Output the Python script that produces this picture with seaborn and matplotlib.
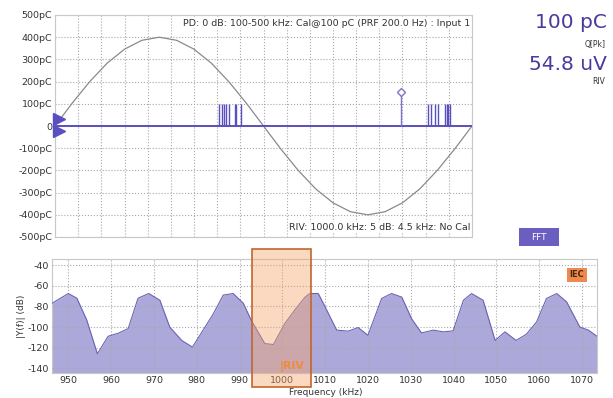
import matplotlib
matplotlib.use("Agg")
import matplotlib.pyplot as plt
import seaborn as sns
import pandas as pd
from matplotlib.patches import Rectangle

# ---------------- data ----------------
# reference AC sine (phase in degrees, charge in pC), read off at 15 deg steps
sine_phase = [0, 15, 30, 45, 60, 75, 90, 105, 120, 135, 150, 165, 180,
              195, 210, 225, 240, 255, 270, 285, 300, 315, 330, 345, 360]
sine_charge = [0, 104, 200, 283, 346, 386, 400, 386, 346, 283, 200, 104, 0,
               -104, -200, -283, -346, -386, -400, -386, -346, -283, -200, -104, 0]

# PD pulse clusters (phase deg, charge pC)
pulse1_phase = [142, 144, 146, 148, 150, 155, 156, 161]
pulse1_charge = [100, 100, 100, 100, 100, 100, 100, 100]
pulse2_phase = [322, 325, 328, 331, 337, 338, 339, 341]
pulse2_charge = [100, 100, 100, 100, 100, 100, 100, 100]
cal_phase = [299]
cal_charge = [155]
trigger_levels = [33, -24]

q_ticks = [500, 400, 300, 200, 100, 0, -100, -200, -300, -400, -500]
q_tick_labels = ["500pC", "400pC", "300pC", "200pC", "100pC", "0",
                 "-100pC", "-200pC", "-300pC", "-400pC", "-500pC"]
phase_grid = list(range(0, 361, 20))

# FFT spectrum
freq_khz = [946.2, 950.0, 952.0, 954.3, 956.8, 959.3, 961.7, 964.0, 966.3, 968.8,
            971.4, 973.7, 976.5, 979.0, 981.5, 983.9, 986.2, 988.5, 990.9, 992.8,
            995.9, 997.9, 1000.6, 1002.9, 1005.3, 1006.4, 1008.4, 1010.0, 1012.7,
            1015.4, 1017.7, 1020.0, 1023.2, 1025.5, 1027.9, 1030.2, 1032.5, 1035.3,
            1037.6, 1039.9, 1042.3, 1044.2, 1046.9, 1049.7, 1052.0, 1054.6, 1057.0,
            1059.4, 1061.7, 1064.1, 1066.4, 1069.5, 1071.5, 1073.5]
magnitude_db = [-77, -67.5, -72, -93, -126, -109, -106, -101.5, -72, -67.5,
                -74, -100, -113, -119.5, -103, -87, -69, -67.5, -77, -94,
                -116, -117, -96.5, -83.5, -71, -67.5, -67.5, -80.5, -103,
                -104, -100.5, -108, -72.3, -67.5, -71, -92, -105.7, -103,
                -104.7, -103.7, -74, -67.5, -74, -113, -104.7, -113, -107,
                -95, -72.3, -67.5, -75.6, -100, -103, -109]
f_ticks = [950, 960, 970, 980, 990, 1000, 1010, 1020, 1030, 1040, 1050, 1060, 1070]
db_ticks = [-40, -60, -80, -100, -120, -140]
db_tick_labels = ["-40", "-60", "-80", "-100", "-120", "-140"]
riv_band = [992.8, 1006.8]

# ---------------- style ----------------
sns.set_theme(style="white")
plt.rcParams['font.family'] = ['DejaVu Sans']
plt.rcParams['axes.unicode_minus'] = False

PURPLE = "#5a4fc0"
TXT = "#333333"
GRID = dict(color="#a8a8a8", linestyle=":", linewidth=0.8)

fig = plt.figure(figsize=(6.13, 3.98), dpi=100)

# ---------------- top: phase resolved ----------------
ax1 = fig.add_axes([55 / 613, 1 - 237 / 398, 417 / 613, 222 / 398])
sine_df = pd.DataFrame({"phase": sine_phase, "charge": sine_charge})
sns.lineplot(data=sine_df, x="phase", y="charge", ax=ax1, color="#8a8a8a",
             linewidth=0.9, zorder=3)
ax1.axhline(0, color=PURPLE, linewidth=1.4, zorder=4)
ax1.vlines(pulse1_phase, 0, pulse1_charge, color=PURPLE, linewidth=1.0, zorder=4)
ax1.vlines(pulse2_phase, 0, pulse2_charge, color=PURPLE, linewidth=1.0, zorder=4)
ax1.vlines(cal_phase, 0, cal_charge, color="#7d74c8", linewidth=1.0, zorder=4)
ax1.plot(cal_phase, cal_charge, marker="D", markersize=4, markerfacecolor="white",
         markeredgecolor="#7d74c8", linestyle="none", zorder=5)
ax1.plot([3.5, 3.5], trigger_levels, marker=">", markersize=8, color=PURPLE,
         linestyle="none", clip_on=False, zorder=6)

ax1.set_xlim(0, 360)
ax1.set_ylim(-500, 500)
ax1.set_xticks(phase_grid)
ax1.set_xticklabels([])
ax1.set_yticks(q_ticks)
ax1.set_yticklabels(q_tick_labels, fontsize=6.8, color=TXT)
ax1.tick_params(length=0, pad=2)
ax1.grid(True, **GRID)
ax1.set_xlabel("")
ax1.set_ylabel("")
for s in ax1.spines.values():
    s.set_color("#c8c8c8")
    s.set_linewidth(0.8)

ax1.text(0.995, 0.963, "PD: 0 dB: 100-500 kHz: Cal@100 pC (PRF 200.0 Hz) : Input 1",
         transform=ax1.transAxes, ha="right", va="center", fontsize=6.8, color=TXT,
         bbox=dict(facecolor="white", edgecolor="none", pad=0.5), zorder=7)
ax1.text(0.995, 0.044, "RIV: 1000.0 kHz: 5 dB: 4.5 kHz: No Cal",
         transform=ax1.transAxes, ha="right", va="center", fontsize=6.8, color=TXT,
         bbox=dict(facecolor="white", edgecolor="none", pad=0.5), zorder=7)

# ---------------- right side readouts ----------------
RO = "#4a3a9e"
fig.text(607 / 613, 1 - 23 / 398, "100 pC", ha="right", va="center",
         fontsize=14.5, color=RO)
fig.text(606 / 613, 1 - 44 / 398, "Q[Pk]", ha="right", va="center",
         fontsize=5.5, color=TXT)
fig.text(607 / 613, 1 - 64 / 398, "54.8 uV", ha="right", va="center",
         fontsize=14.5, color=RO)
fig.text(605 / 613, 1 - 82 / 398, "RIV", ha="right", va="center",
         fontsize=5.5, color=TXT)
fig.patches.append(Rectangle((519 / 613, 1 - 246 / 398), 40 / 613, 18 / 398,
                             transform=fig.transFigure, facecolor="#6a5fc1",
                             edgecolor="none"))
fig.text(539 / 613, 1 - 237 / 398, "FFT", ha="center", va="center",
         fontsize=6.5, color="white")

# ---------------- bottom: FFT spectrum ----------------
ax2 = fig.add_axes([52 / 613, 1 - 373 / 398, 545 / 613, 114 / 398])
spec_df = pd.DataFrame({"freq": freq_khz, "db": magnitude_db})
ax2.fill_between(freq_khz, magnitude_db, -150, color="#aca8da", linewidth=0, zorder=2)
sns.lineplot(data=spec_df, x="freq", y="db", ax=ax2, color="#6b63b2",
             linewidth=0.8, zorder=3)
ax2.set_xlim(946.2, 1073.5)
ax2.set_ylim(-144.6, -34)
ax2.set_xticks(f_ticks)
ax2.set_xticklabels([str(v) for v in f_ticks], fontsize=6.8, color=TXT)
ax2.set_yticks(db_ticks)
ax2.set_yticklabels(db_tick_labels, fontsize=6.8, color=TXT)
ax2.tick_params(length=0, pad=2)
ax2.grid(True, **GRID)
ax2.set_axisbelow(False)
for s in ax2.spines.values():
    s.set_color("#c8c8c8")
    s.set_linewidth(0.8)
ax2.set_xlabel("")
ax2.set_ylabel("|Y(f)| (dB)", fontsize=6.5, color=TXT, labelpad=1)

ax2.add_patch(Rectangle((riv_band[0], -158.5), riv_band[1] - riv_band[0], 134,
                        facecolor="#f6a46a", alpha=0.42, edgecolor="none",
                        clip_on=False, zorder=6))
ax2.add_patch(Rectangle((riv_band[0], -158.5), riv_band[1] - riv_band[0], 134,
                        facecolor="none", edgecolor="#c0672c", linewidth=1.2,
                        clip_on=False, zorder=7))
ax2.text(999.4, -138.5, "|RIV", ha="left", va="center", fontsize=7.8,
         color="#f08a3c", fontweight="bold", zorder=8)
ax2.text(1068.8, -49.5, "IEC", ha="center", va="center", fontsize=6,
         fontweight="bold", color="#4a2510", zorder=8,
         bbox=dict(facecolor="#ef8a4e", edgecolor="none", pad=2.0))

fig.text(326 / 613, 0.002, "Frequency (kHz)", ha="center", va="bottom",
         fontsize=6.5, color=TXT)

fig.savefig("out.png", dpi=100)
